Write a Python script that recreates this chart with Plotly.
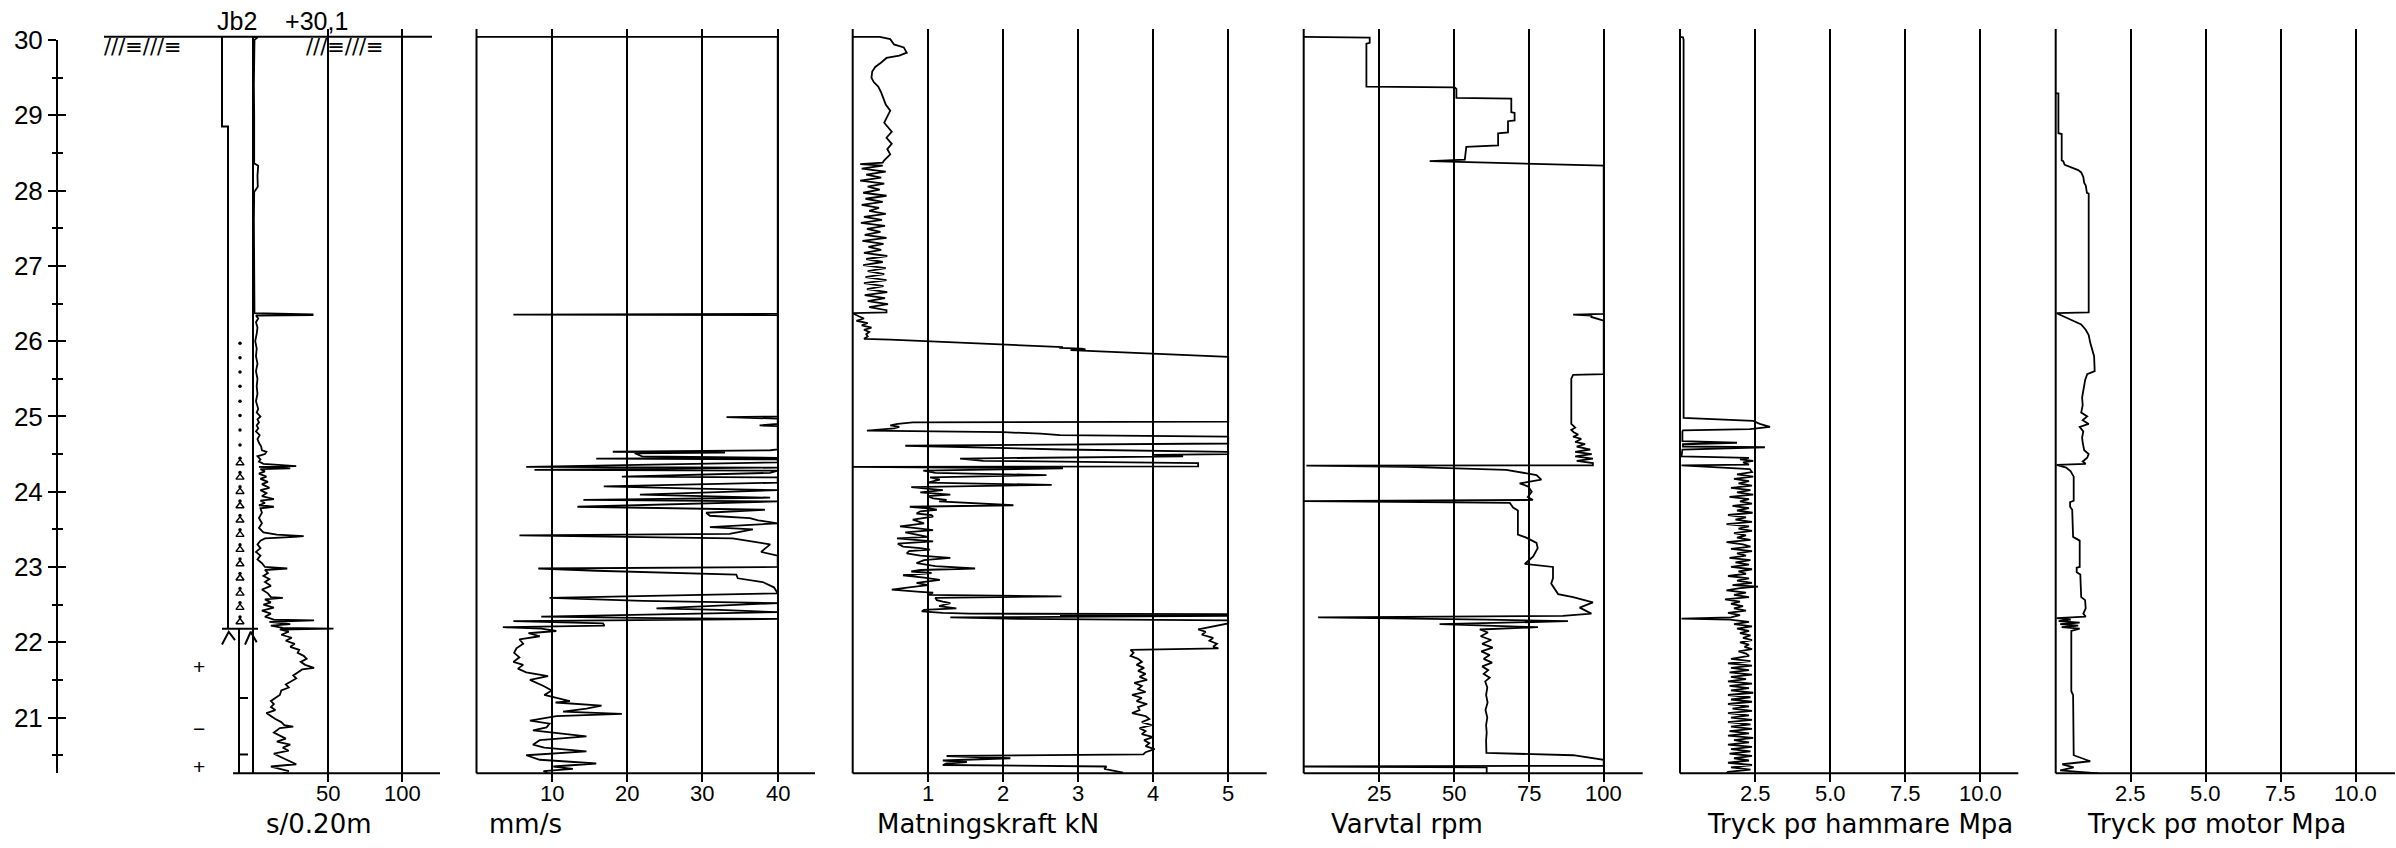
import plotly.graph_objects as go

W, H = 2396, 848

# ---------------- data (depth [m], value) ----------------
P1_S_PER_02M = [
    (30.04, 0.5), (30.03, 3.0), (30.00, 1.0), (29.80, 0.8), (29.40, 0.6), (29.00, 0.8),
    (28.60, 0.6), (28.36, 0.8), (28.33, 3.5), (28.20, 3.0), (28.05, 3.2), (27.98, 0.8),
    (27.60, 0.6), (27.20, 0.7), (26.80, 0.6), (26.50, 0.9), (26.37, 1.0), (26.355, 40),
    (26.345, 40), (26.34, 2.0), (26.30, 3.5), (26.25, 2.0), (26.18, 3.0), (26.10, 2.5),
    (26.00, 1.5), (25.90, 2.5), (25.80, 2.0), (25.70, 3.0), (25.60, 2.0), (25.50, 3.0),
    (25.40, 2.5), (25.30, 3.0), (25.20, 2.0), (25.10, 3.5), (25.05, 2.5), (25.00, 5.0),
    (24.96, 3.0), (24.92, 4.0), (24.88, 2.5), (24.84, 3.5), (24.80, 2.0), (24.75, 4.5),
    (24.70, 3.0), (24.65, 4.0), (24.60, 5.5), (24.55, 6.0), (24.53, 9.0), (24.50, 8.0),
    (24.47, 3.0), (24.43, 5.0), (24.40, 4.0), (24.37, 7.0), (24.34, 29.0), (24.33, 4.0),
    (24.31, 25.0), (24.30, 5.0), (24.27, 8.0), (24.24, 4.0), (24.20, 9.0), (24.17, 5.0),
    (24.13, 10.0), (24.10, 6.0), (24.05, 11.0), (24.02, 5.0), (23.98, 9.0), (23.94, 6.0),
    (23.90, 14.0), (23.88, 5.0), (23.85, 8.0), (23.82, 4.0), (23.80, 14.0), (23.78, 5.0),
    (23.72, 6.0), (23.65, 4.0), (23.58, 6.0), (23.52, 4.0), (23.46, 7.0), (23.43, 16.0),
    (23.41, 34.0), (23.40, 28.0), (23.38, 8.0), (23.35, 5.0), (23.30, 3.0), (23.25, 5.0),
    (23.20, 2.0), (23.15, 5.0), (23.10, 3.0), (23.05, 6.0), (23.00, 8.0), (22.98, 23.0),
    (22.96, 8.0), (22.92, 10.0), (22.88, 7.0), (22.84, 11.0), (22.80, 8.0), (22.75, 12.0),
    (22.70, 6.0), (22.65, 10.0), (22.60, 12.0), (22.59, 20.0), (22.57, 8.0), (22.53, 12.0),
    (22.50, 7.0), (22.46, 14.0), (22.42, 6.0), (22.38, 12.0), (22.34, 8.0), (22.30, 14.0),
    (22.29, 41.0), (22.27, 11.0), (22.24, 25.0), (22.22, 12.0), (22.19, 20.0), (22.18, 54.0),
    (22.17, 18.0), (22.14, 24.0), (22.10, 19.0), (22.06, 26.0), (22.02, 22.0), (21.98, 28.0),
    (21.94, 25.0), (21.90, 31.0), (21.86, 30.0), (21.82, 34.0), (21.78, 36.0), (21.74, 32.0),
    (21.70, 35.0), (21.66, 41.0), (21.64, 33.0), (21.60, 30.0), (21.56, 27.0), (21.52, 29.0),
    (21.48, 25.0), (21.44, 22.0), (21.40, 24.0), (21.36, 19.0), (21.30, 18.0), (21.26, 15.0),
    (21.22, 12.0), (21.18, 14.0), (21.14, 12.0), (21.10, 15.0), (21.06, 9.0), (21.02, 12.0),
    (20.98, 15.0), (20.94, 19.0), (20.90, 21.0), (20.88, 27.0), (20.86, 18.0), (20.80, 14.0),
    (20.76, 18.0), (20.72, 22.0), (20.68, 16.0), (20.64, 25.0), (20.60, 20.0), (20.56, 24.0),
    (20.52, 14.0), (20.48, 18.0), (20.44, 22.0), (20.40, 27.0), (20.38, 29.0), (20.35, 12.0),
    (20.32, 18.0), (20.29, 24.0), (20.26, 20.0),
]

P2_MM_PER_S = [
    (30.04, 0), (30.04, 40), (26.36, 40), (26.35, 4.9), (26.345, 40), (25.00, 40),
    (24.99, 33.2), (24.97, 40), (24.90, 40), (24.88, 37.6), (24.87, 40), (24.56, 40),
    (24.55, 39), (24.53, 18.1), (24.52, 33), (24.51, 21), (24.47, 22), (24.45, 40),
    (24.44, 15.9), (24.43, 40), (24.39, 40), (24.33, 6.6), (24.32, 40), (24.29, 7.7),
    (24.28, 40), (24.25, 39), (24.20, 19.3), (24.19, 40), (24.12, 40), (24.07, 16.9),
    (24.04, 29.2), (24.02, 40), (23.96, 21.7), (23.94, 30), (23.92, 39), (23.89, 14.2),
    (23.87, 40), (23.80, 13.4), (23.78, 28.1), (23.76, 38.3), (23.72, 30.5), (23.68, 31),
    (23.65, 36.3), (23.62, 37.4), (23.58, 40), (23.53, 31), (23.50, 36.7), (23.44, 33.6),
    (23.42, 5.7), (23.41, 13.7), (23.40, 22.6), (23.38, 34), (23.30, 39), (23.20, 37.8),
    (23.15, 40), (23.00, 40), (22.98, 8.2), (22.95, 15.9), (22.90, 34.5), (22.85, 34.7),
    (22.80, 38), (22.73, 39.5), (22.65, 40), (22.59, 9.7), (22.55, 22.1), (22.52, 40),
    (22.45, 23.9), (22.43, 32.3), (22.40, 40), (22.34, 8.6), (22.32, 23.9), (22.31, 40),
    (22.28, 4.9), (22.25, 16.8), (22.22, 17.0), (22.20, 3.5), (22.18, 8.6), (22.15, 10.6),
    (22.12, 6.9), (22.08, 8.4), (22.04, 5.7), (21.98, 6.2), (21.92, 5.3), (21.86, 5.0),
    (21.80, 5.7), (21.74, 4.9), (21.70, 6.2), (21.65, 5.5), (21.60, 6.6), (21.55, 9.5),
    (21.50, 7.1), (21.42, 8.9), (21.36, 10.0), (21.30, 9.0), (21.22, 12.4), (21.20, 10.5),
    (21.16, 16.6), (21.12, 14.6), (21.08, 11.5), (21.05, 19.3), (21.02, 10.6), (20.96, 7.1),
    (20.92, 9.7), (20.87, 9.3), (20.83, 7.5), (20.75, 14.6), (20.70, 8.4), (20.64, 7.5),
    (20.60, 9.0), (20.55, 14.6), (20.50, 6.6), (20.44, 8.4), (20.39, 15.9), (20.35, 10.2),
    (20.32, 12.8), (20.29, 8.9), (20.26, 9.5),
]

P3_KN = [
    (30.04, 0.0), (30.04, 0.36), (30.01, 0.50), (29.94, 0.55), (29.90, 0.68), (29.83, 0.72),
    (29.79, 0.62), (29.76, 0.45), (29.70, 0.38), (29.64, 0.30), (29.58, 0.26), (29.50, 0.25),
    (29.44, 0.28), (29.38, 0.34), (29.30, 0.38), (29.22, 0.41), (29.14, 0.44), (29.06, 0.50),
    (28.98, 0.46), (28.90, 0.42), (28.84, 0.47), (28.78, 0.52), (28.70, 0.45), (28.62, 0.52),
    (28.55, 0.46), (28.48, 0.50), (28.40, 0.42), (28.37, 0.40), (28.35, 0.10),
    (28.33, 0.40), (28.29, 0.12), (28.25, 0.44), (28.21, 0.18), (28.17, 0.38), (28.13, 0.10),
    (28.09, 0.42), (28.05, 0.20), (28.01, 0.36), (27.97, 0.14), (27.93, 0.45), (27.89, 0.17),
    (27.85, 0.40), (27.81, 0.12), (27.77, 0.35), (27.73, 0.22), (27.69, 0.44), (27.65, 0.15),
    (27.61, 0.39), (27.57, 0.11), (27.53, 0.43), (27.49, 0.19), (27.45, 0.37), (27.41, 0.16),
    (27.37, 0.45), (27.33, 0.13), (27.29, 0.41), (27.25, 0.21), (27.21, 0.38), (27.17, 0.15),
    (27.13, 0.46), (27.09, 0.18), (27.05, 0.40), (27.01, 0.14), (26.97, 0.44), (26.93, 0.20),
    (26.89, 0.42), (26.85, 0.17), (26.81, 0.45), (26.77, 0.15), (26.73, 0.41), (26.69, 0.19),
    (26.65, 0.46), (26.61, 0.16), (26.57, 0.43), (26.53, 0.20), (26.49, 0.47), (26.45, 0.22),
    (26.41, 0.45), (26.38, 0.45), (26.37, 0.0), (26.33, 0.08), (26.30, 0.15), (26.27, 0.05),
    (26.24, 0.20), (26.21, 0.12), (26.18, 0.25), (26.15, 0.15), (26.12, 0.22), (26.09, 0.18),
    (26.06, 0.20), (26.03, 0.15), (26.02, 0.50), (25.92, 2.80), (25.91, 2.75), (25.90, 3.05),
    (25.89, 3.10), (25.88, 2.90), (25.79, 5.0), (24.93, 5.0), (24.92, 0.80), (24.90, 0.60),
    (24.88, 0.50), (24.86, 0.62), (24.84, 0.55), (24.81, 0.19), (24.79, 2.0), (24.77, 2.5),
    (24.75, 2.76), (24.73, 5.0), (24.64, 5.0), (24.61, 0.70), (24.59, 1.74), (24.56, 2.8),
    (24.53, 5.0), (24.50, 5.0), (24.49, 4.0), (24.47, 4.4), (24.44, 1.43), (24.41, 1.74),
    (24.38, 4.6), (24.335, 4.6), (24.33, 0.0), (24.31, 2.8), (24.28, 0.94), (24.25, 1.10),
    (24.22, 2.58), (24.19, 1.03), (24.16, 1.16), (24.12, 1.00), (24.09, 2.65), (24.06, 0.78),
    (24.02, 1.20), (23.99, 0.90), (23.96, 1.30), (23.94, 1.00), (23.91, 1.07), (23.89, 1.25),
    (23.87, 1.15), (23.82, 2.14), (23.80, 0.76), (23.78, 1.00), (23.76, 1.12), (23.74, 0.90),
    (23.71, 0.85), (23.69, 1.05), (23.67, 1.07), (23.65, 0.90), (23.63, 0.80), (23.58, 0.95),
    (23.54, 0.63), (23.51, 0.90), (23.49, 1.07), (23.46, 0.70), (23.43, 0.85), (23.40, 1.00),
    (23.38, 0.59), (23.36, 0.90), (23.34, 1.07), (23.31, 0.60), (23.27, 0.67), (23.25, 0.90),
    (23.23, 1.03), (23.21, 0.75), (23.18, 0.72), (23.15, 0.90), (23.12, 1.30), (23.09, 0.95),
    (23.05, 0.85), (23.01, 1.10), (22.98, 1.63), (22.96, 0.90), (22.94, 0.78), (22.92, 1.05),
    (22.89, 0.67), (22.86, 0.95), (22.83, 1.16), (22.79, 0.85), (22.76, 1.00), (22.73, 0.75),
    (22.70, 0.52), (22.67, 0.90), (22.66, 1.07), (22.63, 1.00), (22.61, 2.78), (22.59, 1.10),
    (22.56, 1.12), (22.54, 1.20), (22.52, 1.30), (22.48, 1.15), (22.45, 1.38), (22.43, 0.95),
    (22.41, 0.92), (22.39, 1.20), (22.38, 1.56), (22.375, 5.0), (22.36, 2.76), (22.35, 5.0),
    (22.33, 1.30), (22.31, 2.20), (22.30, 3.40), (22.29, 5.0), (22.25, 5.0), (22.17, 4.60),
    (22.14, 4.70), (22.10, 4.65), (22.06, 4.80), (22.02, 4.75), (21.98, 4.85), (21.94, 4.80),
    (21.92, 4.87), (21.90, 3.70), (21.86, 3.74), (21.82, 3.70), (21.78, 3.80), (21.74, 3.85),
    (21.70, 3.78), (21.66, 3.88), (21.62, 3.80), (21.58, 3.90), (21.54, 3.82), (21.50, 3.92),
    (21.46, 3.75), (21.42, 3.85), (21.38, 3.80), (21.34, 3.90), (21.30, 3.72), (21.26, 3.85),
    (21.22, 3.78), (21.18, 3.92), (21.14, 3.80), (21.10, 3.82), (21.06, 3.72), (21.02, 3.90),
    (20.98, 3.95), (20.94, 3.85), (20.90, 3.98), (20.86, 3.82), (20.82, 3.90), (20.78, 3.85),
    (20.74, 4.00), (20.70, 3.88), (20.66, 3.95), (20.62, 3.90), (20.58, 4.02), (20.54, 3.90),
    (20.51, 3.87), (20.49, 1.25), (20.46, 2.10), (20.43, 1.20), (20.41, 1.52), (20.39, 1.25),
    (20.37, 1.20), (20.35, 3.38), (20.32, 3.35), (20.30, 3.45), (20.27, 3.60),
]

P4_RPM = [
    (30.04, 0.0), (30.04, 20.0), (30.03, 22.0), (29.96, 22.0), (29.95, 20.9), (29.38, 20.9),
    (29.37, 50.3), (29.35, 50.9), (29.23, 50.9), (29.22, 69.2), (29.04, 69.2), (29.03, 70.3),
    (28.93, 70.3), (28.92, 68.1), (28.77, 68.1), (28.76, 64.8), (28.60, 64.8), (28.58, 54.2),
    (28.41, 53.7), (28.39, 42.0), (28.33, 100.0), (26.36, 100.0), (26.35, 89.8), (26.34, 95.9),
    (26.32, 95.9), (26.27, 100.0), (25.56, 100.0), (25.55, 89.8), (25.50, 89.2), (24.90, 89.2),
    (24.85, 90.5), (24.82, 89.2), (24.79, 90.0), (24.76, 91.5), (24.73, 89.8), (24.70, 92.5),
    (24.66, 90.5), (24.63, 93.8), (24.60, 91.0), (24.56, 95.5), (24.53, 90.5), (24.50, 96.0),
    (24.47, 90.5), (24.44, 96.4), (24.41, 91.0), (24.38, 96.4), (24.35, 96.4), (24.345, 0.9),
    (24.33, 34.2), (24.29, 67.5), (24.22, 77.6), (24.16, 79.2), (24.11, 72.0), (24.07, 74.8),
    (24.00, 76.0), (23.93, 74.7), (23.89, 76.4), (23.875, 0.0), (23.85, 68.7), (23.79, 69.8),
    (23.75, 71.4), (23.43, 71.4), (23.39, 74.2), (23.32, 77.6), (23.25, 78.0), (23.14, 76.5),
    (23.04, 73.7), (23.00, 83.1), (22.85, 83.1), (22.78, 82.5), (22.64, 84.8), (22.60, 89.8),
    (22.53, 96.4), (22.46, 92.0), (22.38, 95.9), (22.35, 86.4), (22.33, 4.8), (22.30, 60.9),
    (22.28, 88.1), (22.24, 45.3), (22.20, 78.1), (22.17, 58.7), (22.13, 61.4), (22.08, 59.0),
    (22.03, 62.5), (21.98, 59.5), (21.93, 63.0), (21.88, 59.2), (21.83, 62.0), (21.78, 60.0),
    (21.73, 62.8), (21.68, 59.5), (21.63, 61.5), (21.58, 60.0), (21.53, 62.0), (21.48, 60.5),
    (21.40, 61.2), (21.30, 60.8), (21.20, 61.3), (21.10, 60.6), (21.00, 61.2), (20.90, 60.8),
    (20.80, 61.0), (20.70, 60.8), (20.60, 61.0), (20.53, 60.9), (20.50, 89.8), (20.44, 100.0),
    (20.36, 100.0), (20.35, 0.0), (20.34, 61.0), (20.26, 61.0),
]

P5_HAMMER_MPA = [
    (30.04, 0.0), (30.035, 0.10), (30.00, 0.12), (24.98, 0.12), (24.94, 2.44), (24.90, 2.66),
    (24.86, 3.00), (24.83, 2.33), (24.815, 0.10), (24.80, 0.08), (24.67, 0.08), (24.65, 1.90),
    (24.63, 0.10), (24.60, 0.10), (24.59, 2.83), (24.56, 0.08), (24.47, 0.05), (24.45, 2.30),
    (24.43, 2.00), (24.41, 2.44), (24.39, 2.10), (24.36, 2.30), (24.35, 0.05), (24.30, 2.33),
    (24.26, 2.40), (24.23, 1.90), (24.20, 2.44), (24.17, 1.80), (24.14, 2.30), (24.11, 1.95),
    (24.08, 2.40), (24.05, 1.70), (24.02, 2.35), (23.99, 1.90), (23.96, 2.44), (23.93, 1.65),
    (23.90, 2.30), (23.87, 2.00), (23.84, 2.40), (23.81, 1.75), (23.78, 2.30), (23.75, 1.90),
    (23.72, 2.42), (23.69, 1.60), (23.66, 2.20), (23.63, 1.85), (23.60, 2.40), (23.57, 1.55),
    (23.54, 2.30), (23.51, 1.95), (23.48, 2.40), (23.45, 1.80), (23.42, 2.20), (23.39, 1.90),
    (23.36, 2.35), (23.33, 1.55), (23.30, 2.10), (23.27, 2.35), (23.24, 1.70), (23.21, 2.40),
    (23.18, 1.90), (23.15, 2.20), (23.12, 1.65), (23.09, 2.35), (23.06, 1.85), (23.03, 2.30),
    (23.00, 1.70), (22.97, 2.40), (22.94, 1.95), (22.91, 2.20), (22.88, 1.60), (22.85, 2.30),
    (22.82, 1.90), (22.79, 2.40), (22.76, 1.75), (22.74, 2.60), (22.72, 2.00), (22.69, 1.55),
    (22.66, 2.20), (22.63, 1.80), (22.60, 2.30), (22.57, 1.50), (22.54, 2.00), (22.51, 1.70),
    (22.48, 2.10), (22.45, 1.80), (22.42, 2.20), (22.39, 1.60), (22.36, 2.00), (22.33, 1.70),
    (22.315, 0.05), (22.30, 1.66), (22.27, 2.30), (22.24, 1.80), (22.21, 2.40), (22.18, 1.90),
    (22.15, 2.30), (22.12, 2.00), (22.09, 2.35), (22.06, 2.10), (22.03, 2.40), (22.00, 2.00),
    (21.97, 2.30), (21.94, 2.15), (21.91, 2.40), (21.88, 1.95), (21.85, 2.20), (21.82, 2.30),
    (21.78, 1.70), (21.75, 2.35), (21.72, 1.60), (21.69, 2.40), (21.66, 1.70), (21.63, 2.30),
    (21.60, 1.65), (21.57, 2.40), (21.54, 1.70), (21.51, 2.20), (21.48, 1.60), (21.45, 2.40),
    (21.42, 1.65), (21.39, 2.30), (21.36, 1.70), (21.33, 2.44), (21.30, 1.60), (21.27, 2.35),
    (21.24, 1.70), (21.21, 2.40), (21.18, 1.60), (21.15, 2.30), (21.12, 1.75), (21.09, 2.40),
    (21.06, 1.60), (21.03, 2.30), (21.00, 1.70), (20.97, 2.40), (20.94, 1.60), (20.91, 2.35),
    (20.88, 1.70), (20.85, 2.40), (20.82, 1.65), (20.79, 2.30), (20.76, 1.60), (20.73, 2.44),
    (20.70, 1.80), (20.67, 2.30), (20.64, 1.60), (20.61, 2.40), (20.58, 1.70), (20.55, 2.35),
    (20.52, 1.65), (20.49, 2.40), (20.46, 1.80), (20.43, 2.30), (20.40, 1.60), (20.37, 2.40),
    (20.34, 1.70), (20.31, 2.35), (20.28, 1.60), (20.26, 1.55),
]

P6_MOTOR_MPA = [
    (29.29, 0.0), (29.29, 0.09), (28.76, 0.09), (28.75, 0.20), (28.40, 0.20), (28.39, 0.25),
    (28.34, 0.30), (28.30, 0.55), (28.27, 0.75), (28.24, 0.85), (28.18, 0.92), (28.10, 0.95),
    (28.07, 1.00), (27.97, 1.04), (27.96, 1.10), (26.38, 1.10), (26.37, 0.03), (26.33, 0.25),
    (26.28, 0.50), (26.22, 0.85), (26.15, 1.00), (26.08, 1.10), (25.98, 1.15), (25.90, 1.20),
    (25.80, 1.28), (25.60, 1.30), (25.56, 1.05), (25.48, 0.98), (25.37, 0.92), (25.25, 0.88),
    (25.15, 0.90), (25.05, 0.85), (25.00, 1.05), (24.95, 0.90), (24.90, 1.10), (24.86, 0.80),
    (24.80, 0.92), (24.72, 0.88), (24.65, 0.90), (24.55, 0.95), (24.50, 1.10), (24.45, 1.05),
    (24.40, 0.90), (24.37, 1.00), (24.355, 0.03), (24.32, 0.35), (24.27, 0.50), (24.20, 0.60),
    (23.88, 0.60), (23.86, 0.48), (23.80, 0.48), (23.76, 0.55), (23.40, 0.58), (23.35, 0.80),
    (23.00, 0.80), (22.99, 0.70), (22.93, 0.70), (22.90, 0.82), (22.60, 0.85), (22.56, 0.98),
    (22.45, 1.00), (22.38, 0.92), (22.34, 1.00), (22.32, 0.03), (22.30, 0.50), (22.28, 0.10),
    (22.26, 0.80), (22.24, 0.15), (22.22, 0.75), (22.20, 0.20), (22.18, 0.80), (22.15, 0.52),
    (21.35, 0.52), (21.30, 0.58), (20.50, 0.60), (20.42, 1.15), (20.38, 0.22), (20.34, 0.60),
    (20.30, 0.15), (20.26, 1.42),
]

# soil-log column (depth levels)
TOP_LEVEL = 30.04
BOTTOM_LEVEL = 20.26
LAYER_STEP_LEVEL = 28.85
ROCK_LEVEL = 22.18
CORE_MARK_LEVELS = [21.26, 20.51]
SAND_DOT_LEVELS = [25.97, 25.78, 25.59, 25.40, 25.20, 25.01, 24.82, 24.62]
GRAVEL_LEVELS = [24.38, 24.19, 24.00, 23.81, 23.62, 23.43, 23.23, 23.04, 22.85, 22.65, 22.46, 22.27]
SIGN_LEVELS = [21.68, 20.85, 20.35]
SIGN_TEXT = ["+", "\u2212", "+"]

PANEL_TITLES = ["s/0.20m", "mm/s", "Matningskraft kN", "Varvtal rpm",
                "Tryck p\u03c3 hammare Mpa", "Tryck p\u03c3 motor Mpa"]
PANEL_TICKS = [[50, 100], [10, 20, 30, 40], [1, 2, 3, 4, 5], [25, 50, 75, 100],
               [2.5, 5.0, 7.5, 10.0], [2.5, 5.0, 7.5, 10.0]]
PANEL_TICKTEXT = [["50", "100"], ["10", "20", "30", "40"], ["1", "2", "3", "4", "5"],
                  ["25", "50", "75", "100"], ["2.5", "5.0", "7.5", "10.0"],
                  ["2.5", "5.0", "7.5", "10.0"]]
PANEL_DATA = [P1_S_PER_02M, P2_MM_PER_S, P3_KN, P4_RPM, P5_HAMMER_MPA, P6_MOTOR_MPA]

# ---------------- layout geometry (pixels) ----------------
Y_TOP_PX, Y_BOT_PX, PX_PER_M = 29.0, 773.3, 75.3
DEPTH_TOP = BOTTOM_LEVEL + (Y_BOT_PX - Y_TOP_PX) / PX_PER_M
# (domain left px, domain right px, zero px, px per unit, bottom-line left px)
PANEL_GEOM = [
    (180.0, 440.0, 253.0, 1.49, 233.0),
    (476.5, 815.0, 476.5, 7.53, 476.5),
    (852.7, 1266.7, 852.7, 75.1, 852.7),
    (1303.7, 1642.7, 1303.7, 3.0, 1303.7),
    (1680.0, 2018.3, 1680.0, 30.0, 1680.0),
    (2055.7, 2395.0, 2055.7, 30.0, 2055.7),
]
TITLE_X_PX = [319, 525, 988, 1407, 1860, 2216]
TICKLABEL_Y_PX = 793
TITLE_Y_PX = 824


def px(x):
    return x / W


def py(y):
    return 1 - y / H


TICK_FONT = dict(family="Liberation Sans, Arial, sans-serif", size=22, color="black")
TITLE_FONT = dict(family="DejaVu Sans, sans-serif", size=26, color="black")
LINE = dict(color="black", width=1.8)

fig = go.Figure()
layout = dict(
    width=W, height=H, margin=dict(l=0, r=0, t=0, b=0, pad=0, autoexpand=False),
    paper_bgcolor="white", plot_bgcolor="white", showlegend=False,
    yaxis=dict(domain=[py(Y_BOT_PX), py(Y_TOP_PX)], range=[BOTTOM_LEVEL, DEPTH_TOP],
               visible=False, fixedrange=True, automargin=False),
)
shapes = []
annotations = []

for i, (data, geom) in enumerate(zip(PANEL_DATA, PANEL_GEOM), start=1):
    left, right, zero, ppu, line_left = geom
    xname = "x" if i == 1 else f"x{i}"
    key = "xaxis" if i == 1 else f"xaxis{i}"
    layout[key] = dict(
        domain=[px(left), px(right)],
        range=[(left - zero) / ppu, (right - zero) / ppu],
        anchor="y", tickvals=PANEL_TICKS[i - 1], showticklabels=False,
        showgrid=True, gridcolor="black", gridwidth=2, zeroline=False,
        showline=False, ticks="outside", ticklen=8, tickwidth=2, tickcolor="black",
        fixedrange=True, automargin=False,
    )
    fig.add_trace(go.Scatter(
        x=[v for _, v in data], y=[d for d, _ in data], mode="lines", line=LINE,
        xaxis=xname, yaxis="y", hoverinfo="skip"))
    # tick labels
    for tv, tt in zip(PANEL_TICKS[i - 1], PANEL_TICKTEXT[i - 1]):
        annotations.append(dict(text=tt, x=tv, xref=xname, y=py(TICKLABEL_Y_PX),
                                yref="paper", showarrow=False, xanchor="center",
                                yanchor="middle", font=TICK_FONT))
    # bottom axis line
    shapes.append(dict(type="line", xref="paper", yref="paper",
                       x0=px(line_left), x1=px(right), y0=py(Y_BOT_PX), y1=py(Y_BOT_PX),
                       line=dict(color="black", width=2)))
    if i > 1:
        shapes.append(dict(type="line", xref="paper", yref="paper",
                           x0=px(zero), x1=px(zero), y0=py(Y_TOP_PX), y1=py(Y_BOT_PX),
                           line=dict(color="black", width=2)))
    annotations.append(dict(text=PANEL_TITLES[i - 1], x=px(TITLE_X_PX[i - 1]), y=py(TITLE_Y_PX),
                            xref="paper", yref="paper", showarrow=False,
                            xanchor="center", yanchor="middle", font=TITLE_FONT))

# ---------- soil-log column in panel 1 (units of s/0.20m axis) ----------
def u(pxx):
    return (pxx - 253.0) / 1.49

col_x = [u(222), u(222), u(228), u(228), None,
         0, 0, None,
         u(222), u(258), None,
         u(239), u(239), None]
col_y = [TOP_LEVEL, LAYER_STEP_LEVEL, LAYER_STEP_LEVEL, ROCK_LEVEL, None,
         TOP_LEVEL, BOTTOM_LEVEL, None,
         ROCK_LEVEL, ROCK_LEVEL, None,
         ROCK_LEVEL, BOTTOM_LEVEL, None]
for lv in CORE_MARK_LEVELS:
    col_x += [u(239), u(248), None]
    col_y += [lv, lv, None]
# rock arrow marks under the rock level
col_x += [u(222), u(228.7), u(235), None, u(245), u(250.7), u(256.7), None]
col_y += [ROCK_LEVEL - 0.21, ROCK_LEVEL - 0.04, ROCK_LEVEL - 0.15, None,
          ROCK_LEVEL - 0.21, ROCK_LEVEL - 0.04, ROCK_LEVEL - 0.18, None]
fig.add_trace(go.Scatter(x=col_x, y=col_y, mode="lines", line=dict(color="black", width=2),
                         xaxis="x", yaxis="y", hoverinfo="skip"))
fig.add_trace(go.Scatter(x=[u(240)] * len(SAND_DOT_LEVELS), y=SAND_DOT_LEVELS, mode="markers",
                         marker=dict(color="black", size=3.5), xaxis="x", yaxis="y",
                         hoverinfo="skip"))
fig.add_trace(go.Scatter(x=[u(240)] * len(GRAVEL_LEVELS), y=GRAVEL_LEVELS, mode="markers",
                         marker=dict(symbol="triangle-up-open", color="black", size=7,
                                     line=dict(width=1.4, color="black")),
                         xaxis="x", yaxis="y", hoverinfo="skip"))
fig.add_trace(go.Scatter(x=[u(240)] * len(GRAVEL_LEVELS), y=[g + 0.065 for g in GRAVEL_LEVELS],
                         mode="markers", marker=dict(color="black", size=3.5),
                         xaxis="x", yaxis="y", hoverinfo="skip"))
for lv, sign in zip(SIGN_LEVELS, SIGN_TEXT):
    annotations.append(dict(text=sign, x=u(199), xref="x", y=lv, yref="y", showarrow=False,
                            xanchor="center", yanchor="middle",
                            font=dict(family="Liberation Sans", size=21, color="black")))

# ground surface line and symbols
shapes.append(dict(type="line", xref="paper", yref="paper", x0=px(104), x1=px(432),
                   y0=py(36.7), y1=py(36.7), line=dict(color="black", width=2)))
for hx in (143, 345):
    annotations.append(dict(text="///\u2261///\u2261", x=px(hx), y=py(47), xref="paper",
                            yref="paper", showarrow=False, xanchor="center",
                            yanchor="middle",
                            font=dict(family="DejaVu Sans", size=21, color="black")))
annotations.append(dict(text="Jb2\u00a0\u00a0\u00a0\u00a0+30,1", x=px(282), y=py(21),
                        xref="paper", yref="paper", showarrow=False, xanchor="center",
                        yanchor="middle",
                        font=dict(family="Liberation Sans, Arial", size=25, color="black")))

# ---------- depth (level) axis on the far left ----------
depth_axis_common = dict(
    domain=[py(773.3), py(40)], range=[BOTTOM_LEVEL, 30.0], anchor="free",
    position=px(57), side="left", dtick=1, tick0=0, showgrid=False, zeroline=False,
    tickwidth=2, tickcolor="black", ticklen=8, fixedrange=True, automargin=False,
)
layout["yaxis2"] = dict(**depth_axis_common, ticks="outside", showline=True,
                        linecolor="black", linewidth=2,
                        tickfont=dict(family="Liberation Sans, Arial", size=26, color="black"),
                        minor=dict(dtick=0.5, ticks="outside", ticklen=4, tickwidth=2,
                                   tickcolor="black"))
layout["yaxis3"] = dict(**depth_axis_common, ticks="inside", overlaying="y2",
                        showline=False, showticklabels=False,
                        minor=dict(dtick=0.5, ticks="inside", ticklen=5, tickwidth=2,
                                   tickcolor="black"))
layout["xaxis7"] = dict(domain=[0.0, 0.02], anchor="y2", visible=False, fixedrange=True)
for ya in ("y2", "y3"):
    fig.add_trace(go.Scatter(x=[0], y=[25], mode="markers", marker=dict(opacity=0),
                             xaxis="x7", yaxis=ya, hoverinfo="skip"))

layout["shapes"] = shapes
layout["annotations"] = annotations
fig.update_layout(**layout)
fig.write_html(
    "out.html",
    config={"displayModeBar": False},
    post_script="document.body.style.margin='0px';document.body.style.overflow='hidden';",
)
